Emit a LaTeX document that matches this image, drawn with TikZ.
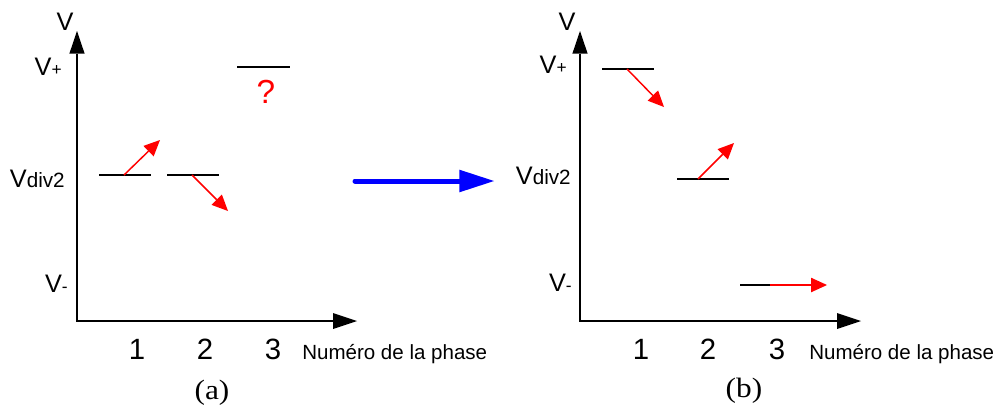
\documentclass[tikz,border=0pt]{standalone}
\usepackage{fontspec}
\setmainfont{Liberation Sans}
\newfontfamily\capfont[FakeStretch=1.12]{Liberation Serif}
\usetikzlibrary{arrows.meta}

\begin{document}
\begin{tikzpicture}[
    x=0.75pt, y=-0.75pt,
    axis/.style={line width=1.3pt,
                 {Triangle[length=17pt, width=11.5pt, line width=0pt]}-{Triangle[length=18pt, width=12pt, line width=0pt]}},
    level/.style={line width=1.1pt},
    move/.style={draw=red, line width=1.1pt, -{Triangle[length=12pt, width=11pt, line width=0pt]}},
    trans/.style={draw=blue, line width=3.75pt, line cap=round, -{Triangle[length=26pt, width=17pt, line width=0pt]}},
    lab/.style={inner sep=0pt, font=\fontsize{19}{19}\selectfont},
    num/.style={inner sep=0pt, anchor=base, font=\fontsize{22}{22}\selectfont},
    axname/.style={inner sep=0pt, anchor=base west, font=\fontsize{15.4}{15.4}\selectfont},
    subcap/.style={inner sep=0pt, anchor=base, font=\capfont\fontsize{21}{21}\selectfont}
  ]
    \useasboundingbox (0,0) rectangle (995,408);
    \newcommand{\lsmall}[1]{{\fontsize{15.5}{15.5}\selectfont #1}}
    \newcommand{\lsign}[1]{{\fontsize{13}{13}\selectfont #1}}

    % panel (a)
    \coordinate (ya) at (77,31);
    \coordinate (oa) at (77,321);
    \coordinate (xa) at (357,321);
    \draw[axis] (ya) -- (oa) -- (xa);

    \node[lab, anchor=base]      (va)    at (65,30)  {V};
    \node[lab, anchor=base east] (vpa)   at (62,75)  {V\lsign{+}};
    \node[lab, anchor=base east] (vdiva) at (65,187) {V\lsmall{div2}};
    \node[lab, anchor=base east] (vma)   at (68,292) {V\lsign{-}};

    \coordinate (a1l) at (99,175);  \coordinate (a1r) at (151,175);
    \coordinate (a2l) at (167,175); \coordinate (a2r) at (219,175);
    \coordinate (a3l) at (237,67);  \coordinate (a3r) at (290,67);
    \draw[level] (a1l) -- (a1r);
    \draw[level] (a2l) -- (a2r);
    \draw[level] (a3l) -- (a3r);

    \coordinate (a1m) at (124,175); \coordinate (a1e) at (160,140);
    \coordinate (a2m) at (192,175); \coordinate (a2e) at (228,211);
    \draw[move] (a1m) -- (a1e);
    \draw[move] (a2m) -- (a2e);
    \node[inner sep=0pt, text=red, font=\fontsize{25}{25}\selectfont] (qa) at (266,92) {?};

    \node[num] (n1a) at (137,359) {1};
    \node[num] (n2a) at (205,359) {2};
    \node[num] (n3a) at (273,359) {3};
    \node[axname] (pha) at (302,359) {Numéro de la phase};
    \node[subcap] (capa) at (212,399) {(a)};

    % transition
    \coordinate (bs) at (355,181);
    \coordinate (be) at (494,181);
    \draw[trans] (bs) -- (be);

    % panel (b)
    \coordinate (yb) at (580,31);
    \coordinate (ob) at (580,321);
    \coordinate (xb) at (861,321);
    \draw[axis] (yb) -- (ob) -- (xb);

    \node[lab, anchor=base]      (vb)    at (567,30)  {V};
    \node[lab, anchor=base east] (vpb)   at (567,73)  {V\lsign{+}};
    \node[lab, anchor=base east] (vdivb) at (571,184) {V\lsmall{div2}};
    \node[lab, anchor=base east] (vmb)   at (572,291) {V\lsign{-}};

    \coordinate (b1l) at (602,69);  \coordinate (b1r) at (654,69);
    \coordinate (b2l) at (677,179); \coordinate (b2r) at (729,179);
    \coordinate (b3l) at (740,285); \coordinate (b3m) at (770,285);
    \draw[level] (b1l) -- (b1r);
    \draw[level] (b2l) -- (b2r);
    \draw[level] (b3l) -- (b3m);

    \coordinate (b1m) at (627,69);  \coordinate (b1e) at (664,107);
    \coordinate (b2m) at (698,179); \coordinate (b2e) at (734,143);
    \coordinate (b3e) at (827,285);
    \draw[move] (b1m) -- (b1e);
    \draw[move] (b2m) -- (b2e);
    \draw[move] (b3m) -- (b3e);

    \node[num] (n1b) at (641,359) {1};
    \node[num] (n2b) at (708,359) {2};
    \node[num] (n3b) at (777,359) {3};
    \node[axname] (phb) at (809,359) {Numéro de la phase};
    \node[subcap] (capb) at (744,397) {(b)};
\end{tikzpicture}
\end{document}
